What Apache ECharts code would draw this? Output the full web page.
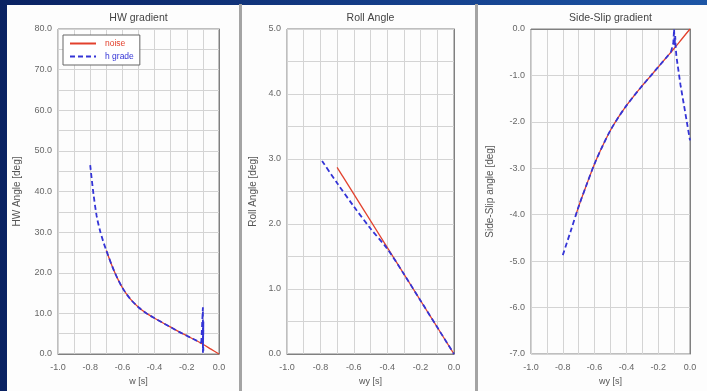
<!DOCTYPE html>
<html>
<head>
<meta charset="utf-8">
<script src="https://cdn.jsdelivr.net/npm/echarts@6/dist/echarts.min.js"></script>
<style>
  html, body { margin: 0; padding: 0; }
  body {
    width: 707px; height: 391px; position: relative; overflow: hidden;
    background: linear-gradient(to right, #0a2262, #15408c 60%, #1d56a6);
  }
  .panel { position: absolute; top: 5px; bottom: 0; background: #fdfdfd; }
  .sep { position: absolute; top: 4px; bottom: 0; width: 3px; background: #a4a4a4; }
  #chart { position: absolute; left: 0; top: 0; width: 707px; height: 391px; }
</style>
</head>
<body>
<div class="panel" style="left:7px; width:232px"></div>
<div class="sep" style="left:239px"></div>
<div class="panel" style="left:242px; width:233px"></div>
<div class="sep" style="left:475px"></div>
<div class="panel" style="left:478px; width:229px"></div>
<div id="chart"></div>
<script>
// HW gradient panel
const hwNoise = [[-0.7, 25.5], [-0.65, 20.3], [-0.6, 16.3], [-0.55, 13.5], [-0.5, 11.5], [-0.45, 10],
  [-0.4, 8.8], [-0.35, 7.7], [-0.3, 6.6], [-0.25, 5.5], [-0.2, 4.5], [-0.15, 3.5], [-0.1, 2.4],
  [-0.05, 1.2], [0, 0]]
const hwGrade = [[-0.8, 46.5], [-0.78, 39.5], [-0.76, 34], [-0.74, 30.5], [-0.72, 27.8], [-0.7, 25.5],
  [-0.65, 20.3], [-0.6, 16.3], [-0.55, 13.5], [-0.5, 11.5], [-0.45, 10], [-0.4, 8.8], [-0.35, 7.7],
  [-0.3, 6.6], [-0.25, 5.5], [-0.2, 4.5], [-0.15, 3.5], [-0.11, 2.7]]
const hwSpike = [[-0.11, 2.7], [-0.1, 11.5], [-0.1, 0.3], [-0.097, 8], [-0.1, 1.5], [-0.097, 6.2],
  [-0.1, 3.2], [-0.097, 0.8]]

// Roll Angle panel
const rollNoise = [[-0.7, 2.87], [0, 0]]
const rollGrade = [[-0.79, 2.97], [-0.7, 2.63], [-0.6, 2.27], [-0.5, 1.93], [-0.4, 1.62],
  [-0.3, 1.23], [-0.2, 0.82], [-0.1, 0.41], [0, 0]]

// Side-Slip gradient panel
const slipNoise = [[-0.72, -4.03], [-0.7, -3.82], [-0.65, -3.35], [-0.6, -2.9], [-0.55, -2.52],
  [-0.5, -2.18], [-0.45, -1.9], [-0.4, -1.65], [-0.35, -1.43], [-0.3, -1.22], [-0.25, -1.02],
  [-0.2, -0.82], [-0.15, -0.62], [-0.1, -0.42], [-0.05, -0.21], [0, 0]]
const slipGrade = [[-0.8, -4.87], [-0.75, -4.35], [-0.7, -3.82], [-0.65, -3.35],
  [-0.6, -2.9], [-0.55, -2.52], [-0.5, -2.18], [-0.45, -1.9], [-0.4, -1.65], [-0.35, -1.43],
  [-0.3, -1.22], [-0.25, -1.02], [-0.2, -0.82], [-0.15, -0.62], [-0.12, -0.5]]
const slipTail = [[-0.12, -0.5], [-0.105, -0.3], [-0.1, 0], [-0.097, -0.35], [-0.093, -0.15],
  [-0.09, -0.4], [-0.085, -0.6], [-0.06, -1.2], [-0.03, -1.8], [0, -2.4]]

const titles = ['HW gradient', 'Roll Angle', 'Side-Slip gradient']
const yNames = ['HW Angle [deg]', 'Roll Angle [deg]', 'Side-Slip angle [deg]']
const xNames = ['w [s]', 'wy [s]', 'wy [s]']
const yRanges = [[0, 80, 10], [0, 5, 1], [-7, 0, 1]]

const FONT = 'Liberation Sans'
const RED = '#e2402c'
const BLUE = '#3434d6'
const grids = [
  { left: 58, top: 29, width: 161, height: 325 },
  { left: 287, top: 29, width: 167, height: 325 },
  { left: 531, top: 29, width: 159, height: 325 }
]
const yGaps = [36, 29, 36]

const chart = echarts.init(document.getElementById('chart'))

const axisCommon = {
  axisLine: { show: true, lineStyle: { color: '#808080', width: 1 } },
  axisTick: { show: false },
  minorTick: { show: false, splitNumber: 2 },
  splitLine: { show: true, lineStyle: { color: '#d4d4d4', width: 1 } },
  axisLabel: { color: '#666', fontSize: 9, fontFamily: FONT, formatter: v => v.toFixed(1) },
  nameTextStyle: { color: '#555', fontSize: 9, fontFamily: FONT }
}

function redLine(i, data) {
  return {
    name: 'noise', type: 'line', xAxisIndex: i, yAxisIndex: i, data: data, smooth: 0.3,
    symbol: 'none', lineStyle: { color: RED, width: 1.3 }, itemStyle: { color: RED }, z: 2
  }
}
function blueLine(i, data, smooth) {
  return {
    name: 'h grade', type: 'line', xAxisIndex: i, yAxisIndex: i, data: data, smooth: smooth,
    symbol: 'none', lineStyle: { color: BLUE, width: 1.8, type: [5, 3] }, itemStyle: { color: BLUE }, z: 3
  }
}

const series = [
  redLine(0, hwNoise), blueLine(0, hwGrade, 0.3), blueLine(0, hwSpike, false),
  redLine(1, rollNoise), blueLine(1, rollGrade, 0.3),
  redLine(2, slipNoise), blueLine(2, slipGrade, 0.3), blueLine(2, slipTail, false)
]

const option = {
  backgroundColor: 'transparent',
  animation: false,
  title: titles.map((t, i) => ({
    text: t,
    left: grids[i].left + grids[i].width / 2,
    top: 13,
    padding: 0,
    textAlign: 'center',
    textStyle: { color: '#444', fontSize: 10.5, fontWeight: 'normal', fontFamily: FONT }
  })),
  legend: {
    left: 63, top: 35, orient: 'vertical',
    padding: [4, 6], itemGap: 4, itemWidth: 26, itemHeight: 8,
    backgroundColor: '#fff', borderColor: '#666', borderWidth: 1, borderRadius: 0,
    itemStyle: { opacity: 0 },
    textStyle: { fontSize: 8.5, fontFamily: FONT, padding: [0, 0, 0, 4] },
    data: [
      { name: 'noise', textStyle: { color: RED } },
      { name: 'h grade', textStyle: { color: BLUE } }
    ]
  },
  grid: grids.map(g => Object.assign({ show: true, borderColor: '#808080', borderWidth: 1, backgroundColor: 'transparent' }, g)),
  xAxis: grids.map((g, i) => Object.assign({}, axisCommon, {
    type: 'value', gridIndex: i, min: -1, max: 0, interval: 0.2,
    minorSplitLine: { show: true, lineStyle: { color: '#d4d4d4', width: 1 } },
    name: xNames[i], nameLocation: 'middle', nameGap: 23,
    axisLabel: Object.assign({}, axisCommon.axisLabel, { margin: 9 })
  })),
  yAxis: grids.map((g, i) => Object.assign({}, axisCommon, {
    type: 'value', gridIndex: i, min: yRanges[i][0], max: yRanges[i][1], interval: yRanges[i][2],
    minorSplitLine: { show: i < 2, lineStyle: { color: '#d4d4d4', width: 1 } },
    name: yNames[i], nameLocation: 'middle', nameGap: yGaps[i], nameRotate: 90,
    nameTextStyle: { color: '#555', fontSize: 10, fontFamily: FONT },
    axisLabel: Object.assign({}, axisCommon.axisLabel, { margin: 6 })
  })),
  series: series
}

chart.setOption(option)
</script>
</body>
</html>
